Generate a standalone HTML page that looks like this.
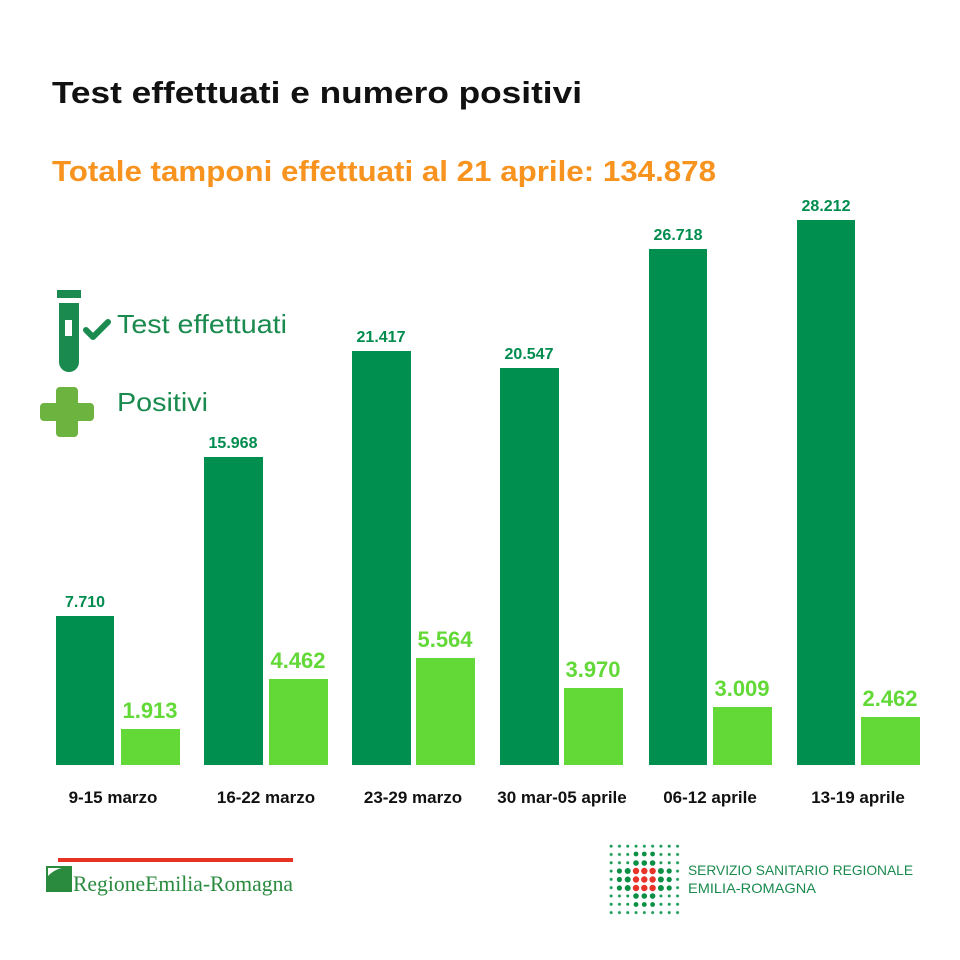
<!DOCTYPE html>
<html><head><meta charset="utf-8"><style>
html,body{margin:0;padding:0;background:#fff;}
svg{display:block;font-family:"Liberation Sans",sans-serif;}
.dv{fill:#008c4e;font-weight:bold;font-size:16px;text-anchor:middle;}
.lv{fill:#62d937;font-weight:bold;font-size:22px;text-anchor:middle;}
.xl{fill:#111;font-weight:bold;font-size:17px;text-anchor:middle;}
</style></head><body>
<svg width="960" height="960" viewBox="0 0 960 960">
<defs>
<pattern id="dots" x="607" y="842" width="8.3" height="8.3" patternUnits="userSpaceOnUse">
<circle cx="4.15" cy="4.15" r="1.5" fill="#1a9a55"/>
</pattern>
</defs>
<text x="52" y="103" font-size="31" font-weight="bold" fill="#111" textLength="530" lengthAdjust="spacingAndGlyphs">Test effettuati e numero positivi</text>
<text x="52" y="181" font-size="29" font-weight="bold" fill="#f7931e" textLength="664" lengthAdjust="spacingAndGlyphs">Totale tamponi effettuati al 21 aprile: 134.878</text>

<!-- legend -->
<rect x="57" y="290" width="24" height="8" fill="#1a8a4e"/>
<path d="M59 303 H79 V362 A10 10 0 0 1 59 362 Z" fill="#1a8a4e"/>
<rect x="65" y="320" width="7" height="16" fill="#fff"/>
<path d="M86 330 L93 337 L108 322" stroke="#1a8a4e" stroke-width="6" fill="none" stroke-linecap="round" stroke-linejoin="round"/>
<text x="117" y="333" font-size="26" fill="#1a8a4e" textLength="170" lengthAdjust="spacingAndGlyphs">Test effettuati</text>
<path d="M60 387 h14 a4 4 0 0 1 4 4 v12 h12 a4 4 0 0 1 4 4 v10 a4 4 0 0 1 -4 4 h-12 v12 a4 4 0 0 1 -4 4 h-14 a4 4 0 0 1 -4 -4 v-12 h-12 a4 4 0 0 1 -4 -4 v-10 a4 4 0 0 1 4 -4 h12 v-12 a4 4 0 0 1 4 -4z" fill="#6cb33f"/>
<text x="117" y="411" font-size="26" fill="#1a8a4e" textLength="91" lengthAdjust="spacingAndGlyphs">Positivi</text>

<!-- bars -->
<g fill="#008f4f">
<rect x="56" y="616" width="58" height="149"/>
<rect x="204" y="457" width="59" height="308"/>
<rect x="352" y="351" width="59" height="414"/>
<rect x="500" y="368" width="59" height="397"/>
<rect x="649" y="249" width="58" height="516"/>
<rect x="797" y="220" width="58" height="545"/>
</g>
<g fill="#62d937">
<rect x="121" y="729" width="59" height="36"/>
<rect x="269" y="679" width="59" height="86"/>
<rect x="416" y="658" width="59" height="107"/>
<rect x="564" y="688" width="59" height="77"/>
<rect x="713" y="707" width="59" height="58"/>
<rect x="861" y="717" width="59" height="48"/>
</g>
<text class="dv" x="85" y="607">7.710</text>
<text class="dv" x="233" y="448">15.968</text>
<text class="dv" x="381" y="342">21.417</text>
<text class="dv" x="529" y="359">20.547</text>
<text class="dv" x="678" y="240">26.718</text>
<text class="dv" x="826" y="211">28.212</text>
<text class="lv" x="150" y="718">1.913</text>
<text class="lv" x="298" y="668">4.462</text>
<text class="lv" x="445" y="647">5.564</text>
<text class="lv" x="593" y="677">3.970</text>
<text class="lv" x="742" y="696">3.009</text>
<text class="lv" x="890" y="706">2.462</text>
<text class="xl" x="113" y="803">9-15 marzo</text>
<text class="xl" x="266" y="803">16-22 marzo</text>
<text class="xl" x="413" y="803">23-29 marzo</text>
<text class="xl" x="562" y="803">30 mar-05 aprile</text>
<text class="xl" x="710" y="803">06-12 aprile</text>
<text class="xl" x="858" y="803">13-19 aprile</text>

<!-- footer left logo -->
<rect x="58" y="858" width="235" height="4" fill="#e63323"/>
<rect x="47" y="867" width="24" height="24" fill="#fff" stroke="#2a8a3e" stroke-width="2"/>
<path d="M48 876 Q58 866 70 868 V890 H48Z" fill="#2a8a3e"/>
<text x="73" y="891" font-size="22" fill="#2a8a3e" font-family="Liberation Serif,serif" textLength="220" lengthAdjust="spacingAndGlyphs">RegioneEmilia-Romagna</text>

<!-- footer right logo -->
<rect x="607" y="842" width="75" height="75" fill="url(#dots)"/>
<g fill="#0b8f45">
<circle cx="636" cy="854" r="2.4"/><circle cx="644.3" cy="854" r="2.4"/><circle cx="652.6" cy="854" r="2.4"/>
<circle cx="636" cy="863" r="2.8"/><circle cx="644.3" cy="863" r="2.8"/><circle cx="652.6" cy="863" r="2.8"/>
<circle cx="619.4" cy="871" r="2.6"/><circle cx="627.7" cy="871" r="3"/><circle cx="660.9" cy="871" r="3"/><circle cx="669.2" cy="871" r="2.6"/>
<circle cx="619.4" cy="879.5" r="2.6"/><circle cx="627.7" cy="879.5" r="3"/><circle cx="660.9" cy="879.5" r="3"/><circle cx="669.2" cy="879.5" r="2.6"/>
<circle cx="619.4" cy="888" r="2.6"/><circle cx="627.7" cy="888" r="3"/><circle cx="660.9" cy="888" r="3"/><circle cx="669.2" cy="888" r="2.6"/>
<circle cx="636" cy="896" r="2.8"/><circle cx="644.3" cy="896" r="2.8"/><circle cx="652.6" cy="896" r="2.8"/>
<circle cx="636" cy="904.5" r="2.4"/><circle cx="644.3" cy="904.5" r="2.4"/><circle cx="652.6" cy="904.5" r="2.4"/>
</g>
<g fill="#e8332a">
<circle cx="636" cy="871" r="3.2"/><circle cx="644.3" cy="871" r="3.2"/><circle cx="652.6" cy="871" r="3.2"/>
<circle cx="636" cy="879.5" r="3.2"/><circle cx="644.3" cy="879.5" r="3.2"/><circle cx="652.6" cy="879.5" r="3.2"/>
<circle cx="636" cy="888" r="3.2"/><circle cx="644.3" cy="888" r="3.2"/><circle cx="652.6" cy="888" r="3.2"/>
</g>
<text x="688" y="875" font-size="14" fill="#1a8a4e" textLength="225" lengthAdjust="spacingAndGlyphs">SERVIZIO SANITARIO REGIONALE</text>
<text x="688" y="893" font-size="14" fill="#1a8a4e" textLength="128" lengthAdjust="spacingAndGlyphs">EMILIA-ROMAGNA</text>
</svg>
</body></html>
